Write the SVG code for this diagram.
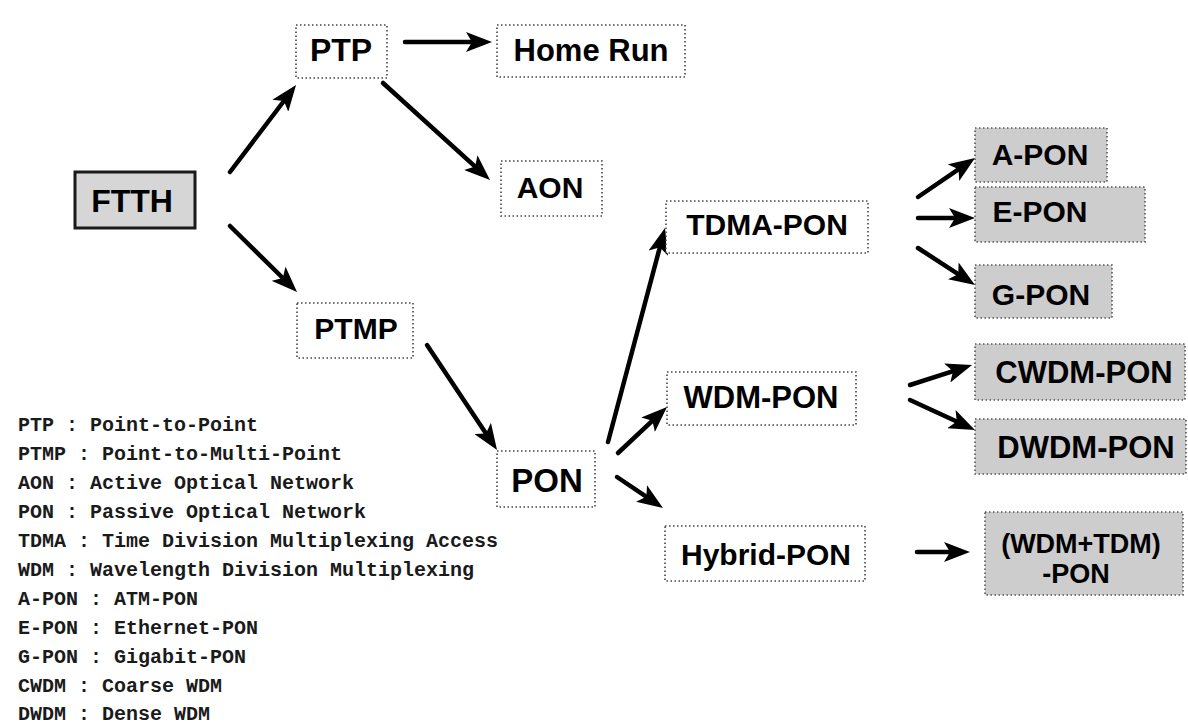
<svg xmlns="http://www.w3.org/2000/svg" width="1188" height="726" viewBox="0 0 1188 726">
  <defs>
    <marker id="head" viewBox="0 0 26 20" markerWidth="26" markerHeight="20" refX="16" refY="10" orient="auto" markerUnits="userSpaceOnUse">
      <path d="M0,0 L26,10 L0,20 L6,10 Z" fill="#000"/>
    </marker>
    <style>
      .lbl { font-family: "Liberation Sans", Arial, sans-serif; font-weight: bold; fill: #000; text-anchor: middle; }
      .plain { fill: #fff; stroke: #444; stroke-width: 1.6; stroke-dasharray: 1.5 2.5; }
      .shade { fill: #cdcdcd; stroke: #555; stroke-width: 1.6; stroke-dasharray: 1.5 2.5; }
      .root { fill: #d6d6d6; stroke: #1a1a1a; stroke-width: 3; }
      .conn line { stroke: #000; stroke-width: 4.5; stroke-linecap: round; marker-end: url(#head); }
      .legend { font-family: "Liberation Mono", "DejaVu Sans Mono", monospace; font-size: 20px; font-weight: bold; fill: #1a1a1a; }
    </style>
  </defs>

  <rect width="1188" height="726" fill="#fff"/>

  <!-- connectors -->
  <g id="connectors" class="conn">
    <line x1="230" y1="172" x2="290.0" y2="93.0"/>
    <line x1="230" y1="226" x2="289.9" y2="285.0"/>
    <line x1="405" y1="42" x2="482" y2="42"/>
    <line x1="383" y1="83" x2="482.6" y2="173.3"/>
    <line x1="427" y1="345" x2="491.5" y2="441.7"/>
    <line x1="608" y1="442" x2="662.4" y2="237.7"/>
    <line x1="618" y1="453" x2="659.7" y2="413.8"/>
    <line x1="617" y1="477" x2="654.7" y2="502.4"/>
    <line x1="918" y1="197" x2="966.8" y2="163.6"/>
    <line x1="918" y1="218" x2="965" y2="218"/>
    <line x1="918" y1="248" x2="966.6" y2="279.6"/>
    <line x1="910" y1="385" x2="962.5" y2="368.1"/>
    <line x1="910" y1="400" x2="965.9" y2="425.8"/>
    <line x1="917" y1="552" x2="960" y2="552"/>
  </g>

  <!-- nodes -->
  <g id="ftth">
    <rect class="root" x="75" y="172" width="120" height="56"/>
    <text class="lbl" x="132" y="212" font-size="32">FTTH</text>
  </g>
  <g id="ptp">
    <rect class="plain" x="296" y="25" width="91" height="53"/>
    <text class="lbl" x="341" y="61" font-size="32">PTP</text>
  </g>
  <g id="home-run">
    <rect class="plain" x="497" y="25" width="188" height="52"/>
    <text class="lbl" x="591" y="61" font-size="31">Home Run</text>
  </g>
  <g id="aon">
    <rect class="plain" x="501" y="161" width="101" height="55"/>
    <text class="lbl" x="550" y="198" font-size="30">AON</text>
  </g>
  <g id="ptmp">
    <rect class="plain" x="297" y="303" width="116" height="55"/>
    <text class="lbl" x="356" y="339" font-size="30">PTMP</text>
  </g>
  <g id="pon">
    <rect class="plain" x="497" y="451" width="98" height="56"/>
    <text class="lbl" x="547" y="492" font-size="33">PON</text>
  </g>
  <g id="tdma-pon">
    <rect class="plain" x="666" y="201" width="202" height="52"/>
    <text class="lbl" x="767" y="235" font-size="30">TDMA-PON</text>
  </g>
  <g id="wdm-pon">
    <rect class="plain" x="667" y="372" width="189" height="53"/>
    <text class="lbl" x="761" y="408" font-size="31">WDM-PON</text>
  </g>
  <g id="hybrid-pon">
    <rect class="plain" x="665" y="526" width="200" height="55"/>
    <text class="lbl" x="766" y="565" font-size="30">Hybrid-PON</text>
  </g>
  <g id="a-pon">
    <rect class="shade" x="975" y="128" width="132" height="54"/>
    <text class="lbl" x="1040" y="165" font-size="30">A-PON</text>
  </g>
  <g id="e-pon">
    <rect class="shade" x="975" y="187" width="170" height="55"/>
    <text class="lbl" x="1040" y="222" font-size="30">E-PON</text>
  </g>
  <g id="g-pon">
    <rect class="shade" x="975" y="265" width="137" height="53"/>
    <text class="lbl" x="1041" y="305" font-size="30">G-PON</text>
  </g>
  <g id="cwdm-pon">
    <rect class="shade" x="975" y="344" width="210" height="56"/>
    <text class="lbl" x="1084" y="383" font-size="31">CWDM-PON</text>
  </g>
  <g id="dwdm-pon">
    <rect class="shade" x="975" y="419" width="211" height="55"/>
    <text class="lbl" x="1086" y="458" font-size="31">DWDM-PON</text>
  </g>
  <g id="wdm-tdm-pon">
    <rect class="shade" x="985" y="512" width="198" height="83"/>
    <text class="lbl" x="1081" y="553" font-size="27">(WDM+TDM)</text>
    <text class="lbl" x="1076" y="583" font-size="27">-PON</text>
  </g>

  <!-- abbreviations -->
  <g id="legend" class="legend">
    <text x="18" y="431">PTP : Point-to-Point</text>
    <text x="18" y="460">PTMP : Point-to-Multi-Point</text>
    <text x="18" y="489">AON : Active Optical Network</text>
    <text x="18" y="518">PON : Passive Optical Network</text>
    <text x="18" y="547">TDMA : Time Division Multiplexing Access</text>
    <text x="18" y="576">WDM : Wavelength Division Multiplexing</text>
    <text x="18" y="605">A-PON : ATM-PON</text>
    <text x="18" y="634">E-PON : Ethernet-PON</text>
    <text x="18" y="663">G-PON : Gigabit-PON</text>
    <text x="18" y="692">CWDM : Coarse WDM</text>
    <text x="18" y="720">DWDM : Dense WDM</text>
  </g>
</svg>
